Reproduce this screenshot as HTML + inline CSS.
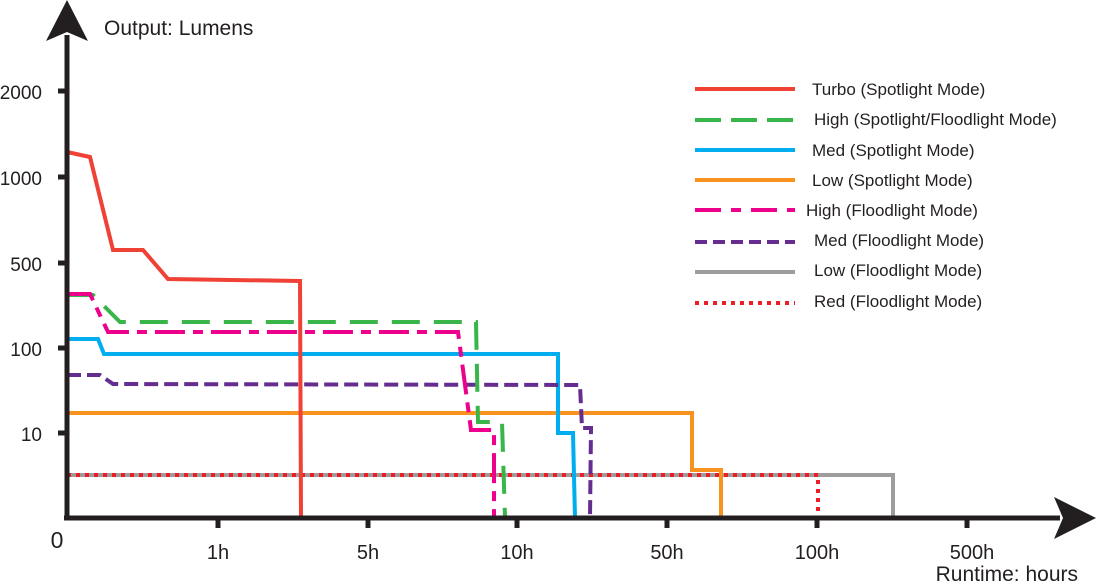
<!DOCTYPE html>
<html><head><style>body{margin:0;background:#fff}svg{display:block}text{font-family:"Liberation Sans",sans-serif;fill:#231f20}</style></head>
<body>
<svg width="1100" height="583" viewBox="0 0 1100 583">
<g fill="none" stroke-width="4" stroke-linejoin="miter">
<polyline stroke="#9d9d9d" points="67,475 893,475 893,518"/>
<polyline stroke="#ee1c25" stroke-dasharray="4,5" points="67,475 818,475 818,518"/>
<polyline stroke="#f7931e" points="67,413 692,413 692,470 721,470 721,518"/>
<polyline stroke="#00aeef" points="67,339 98,339 104,354 558,354 558,433 573,433 575,518"/>
<polyline stroke="#662d91" stroke-dasharray="14,6" points="67,375 100,375 113,384 580,385 582,428 591,428 590,518"/>
<polyline stroke="#39b54a" stroke-dasharray="28,14" points="67,295 93,295 120,322 476,322 478,422 502,422 505,518"/>
<polyline stroke="#ec008c" stroke-dasharray="30,8,10,8" points="67,294 90,294 108,332 458,332 471,430 494,430 494,518"/>
<polyline stroke="#ef4136" points="67,152 90,157 113,250 143,250 168,279 300,281 301,518"/>
</g>
<g stroke="#231f20" stroke-width="5" fill="none">
<line x1="67" y1="518" x2="67" y2="35"/>
<line x1="64" y1="518" x2="1060" y2="518"/>
<line x1="58" y1="91" x2="67" y2="91"/><line x1="58" y1="177" x2="67" y2="177"/>
<line x1="58" y1="263" x2="67" y2="263"/><line x1="58" y1="348" x2="67" y2="348"/>
<line x1="58" y1="433" x2="67" y2="433"/>
<line x1="218" y1="518" x2="218" y2="528"/><line x1="368" y1="518" x2="368" y2="528"/>
<line x1="517" y1="518" x2="517" y2="528"/><line x1="667" y1="518" x2="667" y2="528"/>
<line x1="817" y1="518" x2="817" y2="528"/><line x1="967" y1="518" x2="967" y2="528"/>
</g>
<polygon fill="#231f20" points="67,0 46,41 67,32 88,41"/>
<polygon fill="#231f20" points="1096,518 1054,497 1063,518 1054,539"/>
<g font-size="20">
<text x="104" y="35" font-size="21">Output: Lumens</text>
<text x="42" y="99" text-anchor="end" font-size="19">2000</text>
<text x="42" y="185" text-anchor="end" font-size="19">1000</text>
<text x="42" y="271" text-anchor="end" font-size="19">500</text>
<text x="42" y="356" text-anchor="end" font-size="19">100</text>
<text x="42" y="441" text-anchor="end" font-size="19">10</text>
<text x="57" y="548" text-anchor="middle" font-size="23">0</text>
<text x="218" y="559" text-anchor="middle">1h</text>
<text x="368" y="559" text-anchor="middle">5h</text>
<text x="517" y="559" text-anchor="middle">10h</text>
<text x="667" y="559" text-anchor="middle">50h</text>
<text x="817" y="559" text-anchor="middle">100h</text>
<text x="972" y="559" text-anchor="middle">500h</text>
<text x="1078" y="581" text-anchor="end" font-size="21">Runtime: hours</text>
</g>
<g stroke-width="4" fill="none">
<line x1="695" y1="89" x2="795" y2="89" stroke="#ef4136"/>
<line x1="695" y1="120" x2="795" y2="120" stroke="#39b54a" stroke-dasharray="26,10"/>
<line x1="695" y1="150" x2="795" y2="150" stroke="#00aeef"/>
<line x1="695" y1="180" x2="795" y2="180" stroke="#f7931e"/>
<line x1="695" y1="210" x2="795" y2="210" stroke="#ec008c" stroke-dasharray="26,10,10,10"/>
<line x1="695" y1="242" x2="795" y2="242" stroke="#662d91" stroke-dasharray="12,6"/>
<line x1="695" y1="272" x2="795" y2="272" stroke="#9d9d9d"/>
<line x1="695" y1="303" x2="795" y2="303" stroke="#ee1c25" stroke-dasharray="4,5"/>
</g>
<g font-size="17">
<text x="812" y="95">Turbo (Spotlight Mode)</text>
<text x="814" y="125">High (Spotlight/Floodlight Mode)</text>
<text x="812" y="156">Med (Spotlight Mode)</text>
<text x="812" y="186">Low (Spotlight Mode)</text>
<text x="806" y="216">High (Floodlight Mode)</text>
<text x="814" y="246">Med (Floodlight Mode)</text>
<text x="814" y="276">Low (Floodlight Mode)</text>
<text x="814" y="307">Red (Floodlight Mode)</text>
</g>
</svg>
</body></html>
